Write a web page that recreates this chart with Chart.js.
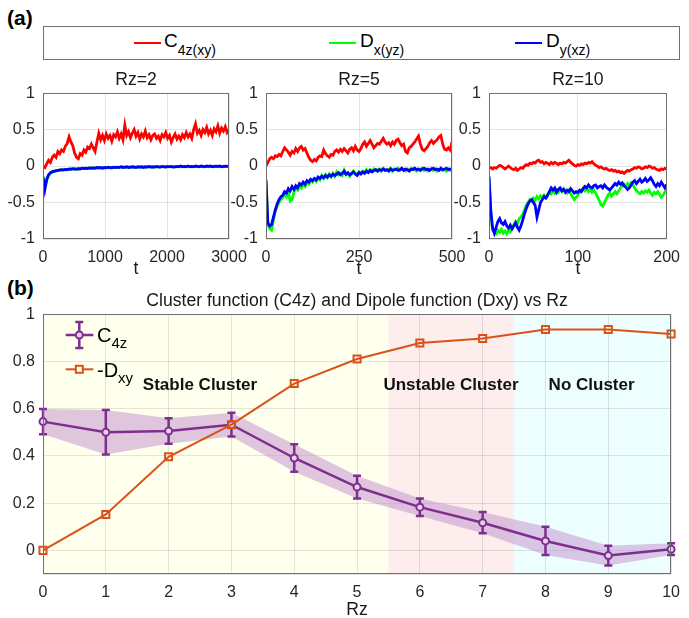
<!DOCTYPE html>
<html><head><meta charset="utf-8">
<script src="https://cdn.jsdelivr.net/npm/chart.js@4.4.1/dist/chart.umd.min.js"></script>
<style>
html,body{margin:0;padding:0;width:689px;height:618px;overflow:hidden;background:#fff;font-family:"Liberation Sans",Arial,sans-serif;}
.abs{position:absolute;}
canvas{position:absolute;}
.lg{position:absolute;font-size:19px;line-height:19px;color:#000;white-space:nowrap;}
.sb{font-size:14px;position:relative;top:8px;}
.lgb{position:absolute;font-size:20px;line-height:20px;color:#000;white-space:nowrap;}
.sbb{font-size:15px;position:relative;top:6px;}
</style></head><body>
<div class="abs" style="left:7px;top:6px;font:bold 21px 'Liberation Sans',Arial;line-height:24px;">(a)</div>
<div class="abs" style="left:7px;top:276px;font:bold 21px 'Liberation Sans',Arial;line-height:24px;">(b)</div>

<div class="abs" style="left:43px;top:26px;width:637px;height:34px;border:1px solid #707070;box-sizing:border-box;"></div>
<div class="abs" style="left:134px;top:41.5px;width:27px;height:2.6px;background:#ff0000;"></div>
<div class="lg" style="left:164px;top:31px;">C<span class="sb">4z(xy)</span></div>
<div class="abs" style="left:329px;top:41.5px;width:27px;height:2.6px;background:#00ff00;"></div>
<div class="lg" style="left:360px;top:31px;">D<span class="sb">x(yz)</span></div>
<div class="abs" style="left:515px;top:41.5px;width:27px;height:2.6px;background:#0000ff;"></div>
<div class="lg" style="left:546px;top:31px;">D<span class="sb">y(xz)</span></div>

<canvas id="c1" width="259" height="220" style="left:0px;top:60px;"></canvas>
<canvas id="c2" width="259" height="220" style="left:223px;top:60px;"></canvas>
<canvas id="c3" width="243" height="220" style="left:446px;top:60px;"></canvas>
<canvas id="cb" width="689" height="341" style="left:0px;top:280px;"></canvas>

<svg class="abs" style="left:60px;top:315px;" width="40" height="65">
  <line x1="5.7" y1="20" x2="33.3" y2="20" stroke="#7e2f8e" stroke-width="2.5"/>
  <line x1="19.3" y1="7" x2="19.3" y2="33" stroke="#7e2f8e" stroke-width="2.5"/>
  <line x1="15.3" y1="7" x2="23.3" y2="7" stroke="#7e2f8e" stroke-width="2.5"/>
  <line x1="15.3" y1="33" x2="23.3" y2="33" stroke="#7e2f8e" stroke-width="2.5"/>
  <circle cx="19.3" cy="20" r="3.5" fill="#e6d3ea" stroke="#7e2f8e" stroke-width="2"/>
  <line x1="5.7" y1="54.3" x2="33.3" y2="54.3" stroke="#d95319" stroke-width="2"/>
  <rect x="15.8" y="50.8" width="7" height="7" fill="#ffffed" stroke="#d95319" stroke-width="2"/>
</svg>
<div class="lgb" style="left:97px;top:325px;">C<span class="sbb">4z</span></div>
<div class="lgb" style="left:97px;top:360px;">-D<span class="sbb">xy</span></div>

<script>
// ---------- Panel (a) data ----------
const t2 = [0,30,60,90,120,150,180,210,240,270,300,330,360,390,420,450,480,510,540,570,600,630,660,690,720,750,780,810,840,870,900,930,960,990,1020,1050,1080,1110,1140,1170,1200,1230,1260,1290,1320,1350,1380,1410,1440,1470,1500,1530,1560,1590,1620,1650,1680,1710,1740,1770,1800,1830,1860,1890,1920,1950,1980,2010,2040,2070,2100,2130,2160,2190,2220,2250,2280,2310,2340,2370,2400,2430,2460,2490,2520,2550,2580,2610,2640,2670,2700,2730,2760,2790,2820,2850,2880,2910,2940,2970,3000];
const red2 = [0.00,-0.02,0.03,0.08,0.05,0.12,0.15,0.12,0.20,0.17,
0.22,0.20,0.27,0.31,0.40,0.33,0.28,0.18,0.12,0.10,
0.17,0.15,0.22,0.19,0.26,0.24,0.30,0.25,0.20,0.33,
0.45,0.36,0.42,0.35,0.44,0.38,0.42,0.34,0.43,0.40,
0.47,0.38,0.44,0.36,0.56,0.42,0.47,0.39,0.45,0.50,
0.41,0.46,0.37,0.44,0.40,0.48,0.39,0.43,0.36,0.42,
0.44,0.38,0.41,0.35,0.43,0.40,0.46,0.38,0.42,0.33,
0.39,0.44,0.37,0.41,0.36,0.43,0.39,0.46,0.40,0.44,
0.38,0.50,0.58,0.45,0.49,0.42,0.50,0.46,0.53,0.44,
0.49,0.42,0.51,0.47,0.55,0.45,0.52,0.48,0.54,0.46,
0.50];
const green2 = [-0.14,-0.30,-0.20,-0.13,-0.10,-0.07,-0.075,-0.06,-0.065,-0.05,
-0.055,-0.05,-0.05,-0.045,-0.045,-0.04,-0.04,-0.045,-0.035,-0.04,
-0.035,-0.035,-0.03,-0.035,-0.03,-0.03,-0.025,-0.03,-0.025,-0.025,
-0.02,-0.025,-0.025,-0.02,-0.02,-0.02,-0.025,-0.015,-0.02,-0.015,
-0.02,-0.015,-0.015,-0.01,-0.02,-0.015,-0.01,-0.02,-0.015,-0.01,
-0.015,-0.015,-0.01,-0.015,-0.01,-0.015,-0.01,-0.01,-0.01,-0.015,
-0.01,-0.01,-0.015,-0.01,-0.01,-0.005,-0.01,-0.01,-0.005,-0.01,
-0.01,-0.005,-0.01,-0.005,-0.005,-0.005,-0.01,-0.005,-0.005,-0.005,
-0.01,-0.005,-0.005,-0.01,-0.005,-0.005,-0.01,-0.005,-0.005,-0.01,
-0.005,-0.005,-0.01,-0.005,-0.01,-0.005,-0.005,-0.01,-0.005,-0.005,
-0.005];
const blue2 = [-0.15,-0.32,-0.18,-0.12,-0.09,-0.08,-0.07,-0.065,-0.06,-0.055,
-0.05,-0.055,-0.045,-0.05,-0.04,-0.045,-0.035,-0.04,-0.045,-0.035,
-0.04,-0.03,-0.035,-0.03,-0.035,-0.025,-0.03,-0.025,-0.03,-0.02,
-0.025,-0.02,-0.03,-0.02,-0.025,-0.015,-0.02,-0.025,-0.015,-0.02,
-0.015,-0.02,-0.01,-0.02,-0.015,-0.01,-0.02,-0.015,-0.01,-0.015,
-0.02,-0.01,-0.015,-0.01,-0.02,-0.01,-0.015,-0.005,-0.015,-0.01,
-0.015,-0.005,-0.01,-0.015,-0.005,-0.01,-0.015,-0.005,-0.01,-0.005,
-0.015,-0.01,-0.005,-0.01,0.0,-0.01,-0.005,-0.01,0.0,-0.01,
-0.005,-0.01,0.0,-0.005,-0.01,0.0,-0.005,-0.01,0.0,-0.005,
0.0,-0.01,-0.005,0.0,-0.005,0.0,-0.01,-0.005,0.0,-0.005,
0.0];

const t5 = [0,5,10,15,20,25,30,35,40,45,50,55,60,65,70,75,80,85,90,95,100,105,110,115,120,125,130,135,140,145,150,155,160,165,170,175,180,185,190,195,200,205,210,215,220,225,230,235,240,245,250,255,260,265,270,275,280,285,290,295,300,305,310,315,320,325,330,335,340,345,350,355,360,365,370,375,380,385,390,395,400,405,410,415,420,425,430,435,440,445,450,455,460,465,470,475,480,485,490,495,500];
const red5 = [0.0,0.05,0.10,0.12,0.10,0.14,0.13,0.16,0.14,0.20,
0.25,0.22,0.19,0.15,0.20,0.18,0.24,0.20,0.25,0.27,
0.22,0.24,0.18,0.12,0.08,0.06,0.09,0.07,0.12,0.14,
0.13,0.22,0.17,0.14,0.12,0.16,0.15,0.20,0.22,0.19,
0.23,0.20,0.24,0.21,0.18,0.23,0.25,0.21,0.27,0.22,
0.20,0.24,0.30,0.33,0.27,0.31,0.35,0.30,0.25,0.28,
0.31,0.30,0.34,0.38,0.33,0.30,0.32,0.28,0.33,0.30,
0.35,0.37,0.32,0.28,0.30,0.20,0.18,0.25,0.27,0.30,
0.33,0.37,0.41,0.30,0.23,0.21,0.24,0.27,0.32,0.35,
0.31,0.34,0.36,0.40,0.42,0.30,0.23,0.22,0.25,0.22,
0.33];
const green5 = [-0.18,-0.80,-0.86,-0.88,-0.74,-0.62,-0.55,-0.50,-0.46,-0.44,
-0.38,-0.42,-0.35,-0.48,-0.46,-0.36,-0.30,-0.33,-0.27,-0.30,
-0.25,-0.28,-0.22,-0.25,-0.20,-0.22,-0.18,-0.21,-0.16,-0.19,
-0.13,-0.17,-0.12,-0.16,-0.11,-0.15,-0.10,-0.14,-0.08,-0.12,
-0.10,-0.13,-0.06,-0.12,-0.10,-0.14,-0.11,-0.07,-0.10,-0.12,
-0.08,-0.10,-0.07,-0.09,-0.05,-0.08,-0.05,-0.07,-0.04,-0.06,
-0.05,-0.04,-0.07,-0.03,-0.05,-0.06,-0.05,-0.03,-0.07,-0.04,
-0.05,-0.03,-0.06,-0.04,-0.05,-0.07,-0.04,-0.06,-0.05,-0.03,
-0.05,-0.07,-0.04,-0.05,-0.03,-0.06,-0.04,-0.07,-0.05,-0.03,
-0.06,-0.04,-0.07,-0.05,-0.04,-0.06,-0.05,-0.07,-0.04,-0.06,
-0.05];
const blue5 = [-0.20,-0.78,-0.82,-0.80,-0.70,-0.60,-0.52,-0.46,-0.42,-0.40,
-0.35,-0.37,-0.31,-0.34,-0.28,-0.32,-0.27,-0.30,-0.24,-0.26,
-0.22,-0.25,-0.20,-0.22,-0.18,-0.20,-0.17,-0.19,-0.15,-0.17,
-0.14,-0.16,-0.13,-0.15,-0.12,-0.14,-0.11,-0.13,-0.11,-0.09,
-0.12,-0.10,-0.07,-0.11,-0.09,-0.12,-0.10,-0.08,-0.11,-0.13,
-0.09,-0.11,-0.08,-0.10,-0.07,-0.09,-0.06,-0.08,-0.06,-0.05,
-0.07,-0.05,-0.06,-0.04,-0.06,-0.05,-0.07,-0.04,-0.06,-0.05,
-0.04,-0.06,-0.05,-0.03,-0.06,-0.04,-0.05,-0.07,-0.04,-0.05,
-0.03,-0.05,-0.04,-0.06,-0.04,-0.03,-0.05,-0.04,-0.06,-0.04,
-0.03,-0.05,-0.04,-0.06,-0.03,-0.05,-0.04,-0.03,-0.05,-0.04,
-0.05];

const t10 = [0,2,4,6,8,10,12,14,16,18,20,22,24,26,28,30,32,34,36,38,40,42,44,46,48,50,52,54,56,58,60,62,64,66,68,70,72,74,76,78,80,82,84,86,88,90,92,94,96,98,100,102,104,106,108,110,112,114,116,118,120,122,124,126,128,130,132,134,136,138,140,142,144,146,148,150,152,154,156,158,160,162,164,166,168,170,172,174,176,178,180,182,184,186,188,190,192,194,196,198,200];
const red10 = [-0.03,-0.02,-0.04,-0.02,-0.03,-0.01,0.01,0.00,-0.02,-0.04,
-0.02,0.00,-0.02,-0.04,-0.05,-0.03,-0.06,-0.04,-0.02,-0.03,
0.00,0.02,0.01,0.04,0.03,0.05,0.04,0.07,0.08,0.05,
0.06,0.03,0.05,0.04,0.02,0.05,0.03,0.05,0.04,0.02,
0.04,0.03,0.05,0.04,0.06,0.08,0.05,0.03,0.01,0.00,
0.02,0.01,0.03,0.02,0.04,0.03,0.05,0.04,0.06,0.03,
0.01,0.00,-0.02,-0.01,-0.03,-0.04,-0.03,-0.05,-0.06,-0.05,
-0.07,-0.06,-0.08,-0.07,-0.09,-0.08,-0.10,-0.08,-0.06,-0.07,
-0.05,-0.04,-0.02,-0.03,-0.01,-0.02,-0.04,-0.03,-0.01,-0.02,
0.00,-0.01,-0.03,-0.02,-0.04,-0.05,-0.06,-0.04,-0.05,-0.03,
-0.04];
const green10 = [-0.15,-0.65,-0.88,-0.90,-0.93,-0.88,-0.91,-0.87,-0.92,-0.89,
-0.93,-0.88,-0.90,-0.85,-0.80,-0.76,-0.79,-0.72,-0.70,-0.66,
-0.60,-0.54,-0.50,-0.46,-0.48,-0.44,-0.47,-0.42,-0.45,-0.41,
-0.44,-0.40,-0.43,-0.39,-0.36,-0.38,-0.34,-0.37,-0.33,-0.36,
-0.32,-0.35,-0.31,-0.34,-0.37,-0.33,-0.38,-0.42,-0.46,-0.43,
-0.40,-0.36,-0.33,-0.30,-0.34,-0.31,-0.35,-0.32,-0.36,-0.33,
-0.37,-0.42,-0.47,-0.53,-0.55,-0.50,-0.45,-0.40,-0.37,-0.41,
-0.38,-0.35,-0.38,-0.34,-0.30,-0.27,-0.25,-0.28,-0.24,-0.27,
-0.23,-0.26,-0.30,-0.34,-0.36,-0.38,-0.35,-0.37,-0.34,-0.36,
-0.33,-0.37,-0.40,-0.36,-0.38,-0.35,-0.39,-0.43,-0.40,-0.36,
-0.33];
const blue10 = [-0.14,-0.60,-0.85,-0.92,-0.84,-0.76,-0.72,-0.78,-0.80,-0.76,
-0.82,-0.85,-0.81,-0.86,-0.82,-0.78,-0.84,-0.88,-0.82,-0.74,
-0.65,-0.58,-0.52,-0.48,-0.46,-0.50,-0.54,-0.70,-0.60,-0.50,
-0.46,-0.42,-0.44,-0.40,-0.35,-0.30,-0.33,-0.30,-0.36,-0.32,
-0.30,-0.34,-0.32,-0.36,-0.33,-0.35,-0.31,-0.34,-0.37,-0.35,
-0.36,-0.33,-0.35,-0.31,-0.28,-0.30,-0.26,-0.29,-0.30,-0.27,
-0.26,-0.30,-0.28,-0.27,-0.30,-0.26,-0.29,-0.31,-0.33,-0.30,
-0.27,-0.24,-0.26,-0.22,-0.25,-0.23,-0.27,-0.29,-0.32,-0.30,
-0.26,-0.22,-0.20,-0.24,-0.21,-0.18,-0.22,-0.20,-0.17,-0.21,
-0.19,-0.16,-0.20,-0.25,-0.28,-0.24,-0.27,-0.22,-0.26,-0.30,
-0.25];

// ---------- Panel (b) data ----------
const rz = [0,1,2,3,4,5,6,7,8,9,10];
const c4z = [0.545,0.500,0.505,0.532,0.391,0.268,0.183,0.117,0.040,-0.022,0.005];
const c4zErr = [0.053,0.094,0.054,0.050,0.058,0.048,0.037,0.045,0.060,0.042,0.025];
const negDxy = [0.000,0.152,0.396,0.532,0.706,0.810,0.878,0.897,0.935,0.935,0.916];
const regionStart = [0,5.5,7.5];
const regionEnd = [5.5,7.5,10];
const regionColor = ['#ffffed','#fdeded','#edfefe'];
const regionLabels = ['Stable Cluster','Unstable Cluster','No Cluster'];
const regionLabelX = [1.59,5.42,8.05];
const regionLabelY = 0.70;

const FONT = "'Liberation Sans', Arial, Helvetica, sans-serif";
Chart.defaults.font.family = FONT;
Chart.defaults.color = '#262626';
const GRID = 'rgba(0,0,0,0.1)';
const FRAME = '#6f6f6f';
const PURPLE = '#7e2f8e';
const ORANGE = '#d95319';

const framePlugin = {id:'frame', afterDatasetsDraw(c){
  const a=c.chartArea, ctx=c.ctx;
  ctx.save(); ctx.strokeStyle=FRAME; ctx.lineWidth=1;
  ctx.strokeRect(Math.round(a.left)+0.5, Math.round(a.top)+0.5, Math.round(a.right)-Math.round(a.left)-1, Math.round(a.bottom)-Math.round(a.top)-1);
  ctx.restore();
}};

// Chart.js paints lower dataset indices on top, so the list runs top-most first.
function makeSmall(id, title, t, red, green, blue, xmax, xstep, rpad){
  const pts = arr => t.map((x,i)=>({x:x, y:arr[i]}));
  const ds = (arr,col)=>({data:pts(arr), borderColor:col, borderWidth:2.8, pointRadius:0, tension:0, fill:false});
  return new Chart(document.getElementById(id).getContext('2d'), {
    type:'line',
    data:{datasets:[ds(blue,'#0000ff'), ds(green,'#00ff00'), ds(red,'#ff0000')]},
    options:{responsive:false, animation:false, devicePixelRatio:1,
      layout:{padding:{left:0,right:rpad,top:0,bottom:0}},
      plugins:{legend:{display:false}, tooltip:{enabled:false},
        title:{display:true, fullSize:false, text:title, color:'#1a1a1a', font:{size:17.6, weight:'normal'}, padding:{top:10,bottom:2}}},
      scales:{
        x:{type:'linear', min:0, max:xmax,
          ticks:{stepSize:xstep, autoSkip:false, maxRotation:0, color:'#262626', font:{size:16}, padding:9, callback:v=>String(v)},
          grid:{color:GRID, drawTicks:false}, border:{display:false},
          title:{display:true, text:'t', color:'#1a1a1a', font:{size:17.6}, padding:0},
          afterFit:s=>{s.height=41;}},
        y:{min:-1, max:1,
          ticks:{stepSize:0.5, color:'#262626', font:{size:16}, padding:8, callback:v=>String(v)},
          grid:{color:GRID, drawTicks:false}, border:{display:false},
          afterFit:s=>{s.width=43;}}
      }},
    plugins:[framePlugin]
  });
}

makeSmall('c1','Rz=2', t2, red2, green2, blue2, 3000, 1000, 30);
makeSmall('c2','Rz=5', t5, red5, green5, blue5, 500, 250, 30);
makeSmall('c3','Rz=10', t10, red10, green10, blue10, 200, 100, 15);

// ---------- Panel (b) ----------
const regionPlugin = {id:'regions', beforeDraw(c){
  const a=c.chartArea, xs=c.scales.x, ctx=c.ctx;
  ctx.save();
  regionStart.forEach((s,i)=>{
    const x1=xs.getPixelForValue(s), x2=xs.getPixelForValue(regionEnd[i]);
    ctx.fillStyle=regionColor[i];
    ctx.fillRect(x1, a.top, x2-x1, a.bottom-a.top);
  });
  ctx.restore();
}};
const C4Z_INDEX = 1;
const errPlugin = {id:'errbars', beforeDatasetDraw(c,args){
  if(args.index!==C4Z_INDEX) return;
  const xs=c.scales.x, ys=c.scales.y, ctx=c.ctx;
  ctx.save(); ctx.strokeStyle=PURPLE; ctx.lineWidth=2.5;
  rz.forEach((r,i)=>{
    const x=xs.getPixelForValue(r), y1=ys.getPixelForValue(c4z[i]+c4zErr[i]), y2=ys.getPixelForValue(c4z[i]-c4zErr[i]);
    ctx.beginPath();
    ctx.moveTo(x,y1); ctx.lineTo(x,y2);
    ctx.moveTo(x-4,y1); ctx.lineTo(x+4,y1);
    ctx.moveTo(x-4,y2); ctx.lineTo(x+4,y2);
    ctx.stroke();
  });
  ctx.restore();
}};
const labelPlugin = {id:'regionLabels', afterDatasetsDraw(c){
  const xs=c.scales.x, ys=c.scales.y, ctx=c.ctx;
  ctx.save(); ctx.fillStyle='#111'; ctx.font='bold 17px '+FONT; ctx.textAlign='left'; ctx.textBaseline='middle';
  regionLabels.forEach((l,i)=>ctx.fillText(l, xs.getPixelForValue(regionLabelX[i]), ys.getPixelForValue(regionLabelY)));
  ctx.restore();
}};

const xy = arr => rz.map((x,i)=>({x:x, y:arr[i]}));
new Chart(document.getElementById('cb').getContext('2d'), {
  type:'line',
  data:{datasets:[
    {data:xy(negDxy), borderColor:ORANGE, borderWidth:2, pointStyle:'rect', pointRadius:5, pointBorderWidth:2, pointBorderColor:ORANGE, pointBackgroundColor:'rgba(0,0,0,0)', clip:false, tension:0},
    {data:xy(c4z), borderColor:PURPLE, borderWidth:2.5, pointStyle:'circle', pointRadius:3.5, pointBorderWidth:2, pointBorderColor:PURPLE, pointBackgroundColor:'#e6d3ea', clip:false, tension:0},
    {data:xy(c4z.map((v,i)=>v+c4zErr[i])), borderWidth:0, pointRadius:0, fill:false, borderColor:'rgba(0,0,0,0)'},
    {data:xy(c4z.map((v,i)=>v-c4zErr[i])), borderWidth:0, pointRadius:0, fill:'-1', borderColor:'rgba(0,0,0,0)', backgroundColor:'rgba(196,152,208,0.55)'}
  ]},
  options:{responsive:false, animation:false, devicePixelRatio:1,
    layout:{padding:{left:0,right:16,top:0,bottom:0}},
    plugins:{legend:{display:false}, tooltip:{enabled:false}, filler:{propagate:false},
      title:{display:true, fullSize:false, text:'Cluster function (C4z) and Dipole function (Dxy) vs Rz', color:'#1a1a1a', font:{size:17.6, weight:'normal'}, padding:{top:11,bottom:2}}},
    scales:{
      x:{type:'linear', min:0, max:10,
        ticks:{stepSize:1, autoSkip:false, maxRotation:0, color:'#262626', font:{size:16}, padding:9},
        grid:{color:GRID, drawTicks:false}, border:{display:false},
        title:{display:true, text:'Rz', color:'#1a1a1a', font:{size:17.6}, padding:0},
        afterFit:s=>{s.height=47;}},
      y:{min:-0.1, max:1,
        ticks:{stepSize:0.2, color:'#262626', font:{size:16}, padding:8, callback:v=>(v< -0.05 ? '' : String(Math.round(v*10)/10))},
        grid:{color:GRID, drawTicks:false}, border:{display:false},
        afterFit:s=>{s.width=43;}}
    }},
  plugins:[regionPlugin, errPlugin, labelPlugin, framePlugin]
});
</script>
</body></html>
